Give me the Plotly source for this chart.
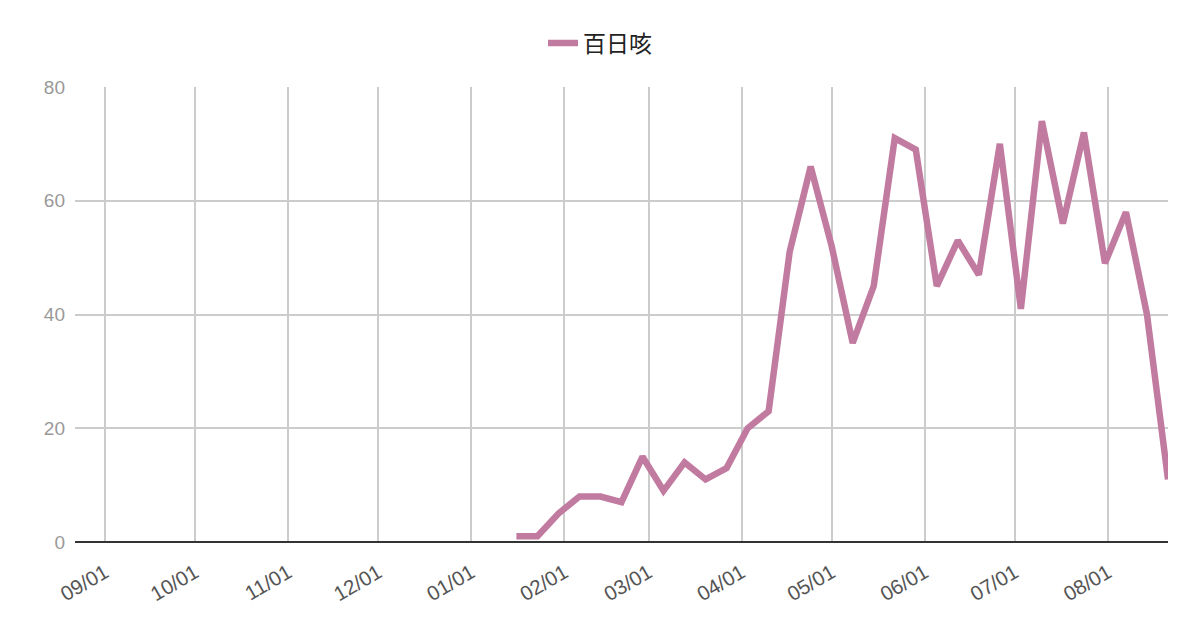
import plotly.graph_objects as go
import pandas as pd

series_name = "百日咳"
start_date = "2025-01-16"
values = [1, 1, 5, 8, 8, 7, 15, 9, 14, 11, 13, 20, 23, 51, 66, 52, 35, 45, 71, 69,
          45, 53, 47, 70, 41, 74, 56, 72, 49, 58, 40, 11]
dates = pd.date_range(start_date, periods=len(values), freq="7D")

x_range = ["2024-08-22", "2025-08-21"]
month_ticks = pd.date_range("2024-09-01", "2025-08-01", freq="MS")
y_ticks = [0, 20, 40, 60, 80]

# the page body adds an 8px offset; margins compensate for it
OFF = 8

fig = go.Figure()
fig.add_trace(go.Scatter(
    x=dates, y=values, mode="lines", name=series_name,
    line=dict(color="#c27ba0", width=6.5),
))

fig.update_layout(
    width=1200, height=626,
    paper_bgcolor="white", plot_bgcolor="white",
    margin=dict(l=75 - OFF, r=32 + OFF, t=87 - OFF, b=84 + OFF, autoexpand=False),
    font=dict(family="Arial, Liberation Sans, sans-serif"),
    showlegend=True,
    legend=dict(orientation="h", xref="container", x=(600 - OFF) / 1200, xanchor="center",
                yref="container", y=1 - (43 - OFF) / 626, yanchor="middle",
                font=dict(size=23, color="#222222",
                          family="Noto Sans CJK JP, Noto Sans CJK SC, sans-serif"),
                itemwidth=30),
)
fig.update_xaxes(
    type="date", range=x_range, automargin=False,
    tickvals=month_ticks, tickformat="%m/%d", tickangle=-30,
    tickfont=dict(size=20.5, color="#555555"),
    showgrid=True, gridcolor="#cccccc", gridwidth=1.5,
    showline=False, zeroline=False, ticks="", ticklabelstandoff=14,
)
fig.update_yaxes(
    range=[0, 80], tickvals=y_ticks, automargin=False,
    tickfont=dict(size=19, color="#999999"),
    showgrid=True, gridcolor="#cccccc", gridwidth=1.5,
    zeroline=True, zerolinecolor="#333333", zerolinewidth=2,
    showline=False, ticks="", ticklabelstandoff=9,
)

fig.write_html("out.html")
